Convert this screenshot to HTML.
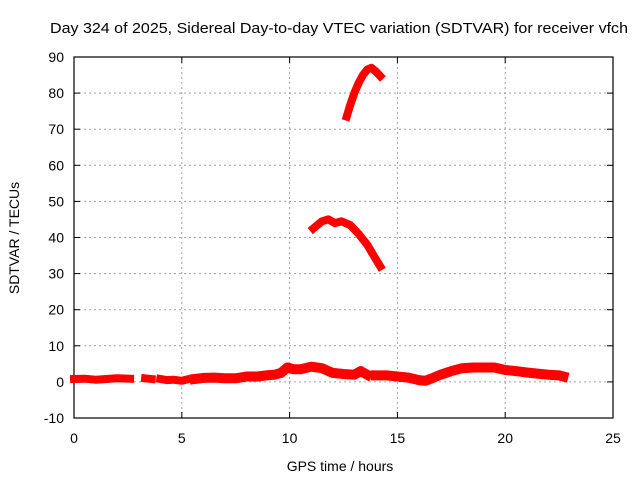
<!DOCTYPE html>
<html><head><meta charset="utf-8"><style>
body{margin:0;background:#fff;}
svg{display:block;font-family:"Liberation Sans",sans-serif;}
</style></head><body>
<svg id="chart" width="640" height="480">
<rect width="640" height="480" fill="#fff"/>
<text x="339" y="33" font-size="15" text-anchor="middle" textLength="578" lengthAdjust="spacingAndGlyphs">Day 324 of 2025, Sidereal Day-to-day VTEC variation (SDTVAR) for receiver vfch</text>
<g id="grid"></g>
<g id="axes"></g>
<g id="series"></g>
<text x="340" y="471" font-size="14" text-anchor="middle">GPS time / hours</text>
<text transform="translate(19,238) rotate(-90)" font-size="14" text-anchor="middle">SDTVAR / TECUs</text>
</svg>
<script>
const xTicks=[0,5,10,15,20,25];
const yTicks=[-10,0,10,20,30,40,50,60,70,80,90];
const lowHours=[[0,0.5,1,1.5,2,2.6],[3.3,3.6],[4,4.3,4.6,5,5.2],[5.6,6,6.5,7,7.5,8,8.5,8.9,9.3,9.6,9.9,10.2,10.5,11,11.5,12,12.5,13,13.3,13.6],[14,14.5,15,15.5,16,16.3,16.6,17,17.5,18,18.5,19,19.5,20,20.5,21,21.5,22,22.5,22.7]];
const lowValues=[[0.8,0.9,0.6,0.8,1,0.9],[1,0.8],[0.8,0.5,0.6,0.3,0.6],[0.8,1.1,1.2,1,1.0,1.5,1.5,1.8,2.0,2.5,4,3.5,3.5,4.2,3.8,2.5,2.2,2.0,3.0,2.0],[1.8,1.8,1.5,1.2,0.5,0.3,1,2,3,3.8,4,4,4,3.3,3,2.6,2.3,2,1.8,1.5]];
const arc1Hours=[11.1,11.5,11.8,12.1,12.4,12.8,13.2,13.6,14,14.2];
const arc1Values=[42.5,44.5,45,44,44.5,43.5,41,38,34,32];
const arc2Hours=[12.65,12.8,13.0,13.2,13.4,13.6,13.8,14.0,14.2];
const arc2Values=[73.5,76.5,80,82.8,85,86.5,87,86,84.7];
const X0=74,X1=613,Y0=418,Y1=57;
const sx=h=>X0+(h-0)/(25-0)*(X1-X0);
const sy=v=>Y0-(v+10)/100*(Y0-Y1);
const NS="http://www.w3.org/2000/svg";
function mk(t,a,p){const e=document.createElementNS(NS,t);for(const k in a)e.setAttribute(k,a[k]);p.appendChild(e);return e;}
const grid=document.getElementById('grid'),axes=document.getElementById('axes'),ser=document.getElementById('series');
xTicks.forEach(t=>{const x=sx(t);
 if(t>0&&t<25){const l=mk('line',{x1:x,y1:Y1,x2:x,y2:Y0,stroke:'#a0a0a0','stroke-dasharray':'2,3'},grid);}
 mk('line',{x1:x,y1:Y0,x2:x,y2:Y0-6,stroke:'#000'},axes);mk('line',{x1:x,y1:Y1,x2:x,y2:Y1+6,stroke:'#000'},axes);
 const tx=mk('text',{x:x,y:443,'font-size':14,'text-anchor':'middle'},axes);tx.textContent=t;
 });
yTicks.forEach(t=>{const y=sy(t);
 if(t>-10&&t<90){const l=mk('line',{x1:X0,y1:y,x2:X1,y2:y,stroke:'#a0a0a0','stroke-dasharray':'2,3'},grid);}
 mk('line',{x1:X0,y1:y,x2:X0+6,y2:y,stroke:'#000'},axes);mk('line',{x1:X1,y1:y,x2:X1-6,y2:y,stroke:'#000'},axes);
 const tx=mk('text',{x:64,y:y+5,'font-size':14,'text-anchor':'end'},axes);tx.textContent=t;
 });
mk('rect',{x:X0,y:Y1,width:X1-X0,height:Y0-Y1,fill:'none',stroke:'#000','stroke-width':1.2},axes);
function draw(hs,vs,w,name){
 const pts=hs.map((h,i)=>sx(h).toFixed(1)+','+sy(vs[i]).toFixed(1)).join(' ');
 const p=mk('polyline',{points:pts,fill:'none',stroke:'#ff0000','stroke-width':w,'stroke-linejoin':'round','stroke-linecap':'square'},ser);
 
 
}
lowHours.forEach((hs,i)=>draw(hs,lowValues[i],i===3||i===4?10:8,'low-variation-segment'));
draw(arc1Hours,arc1Values,8,'arc-40-tecu');
draw(arc2Hours,arc2Values,8,'arc-80-tecu');
</script>
</body></html>
